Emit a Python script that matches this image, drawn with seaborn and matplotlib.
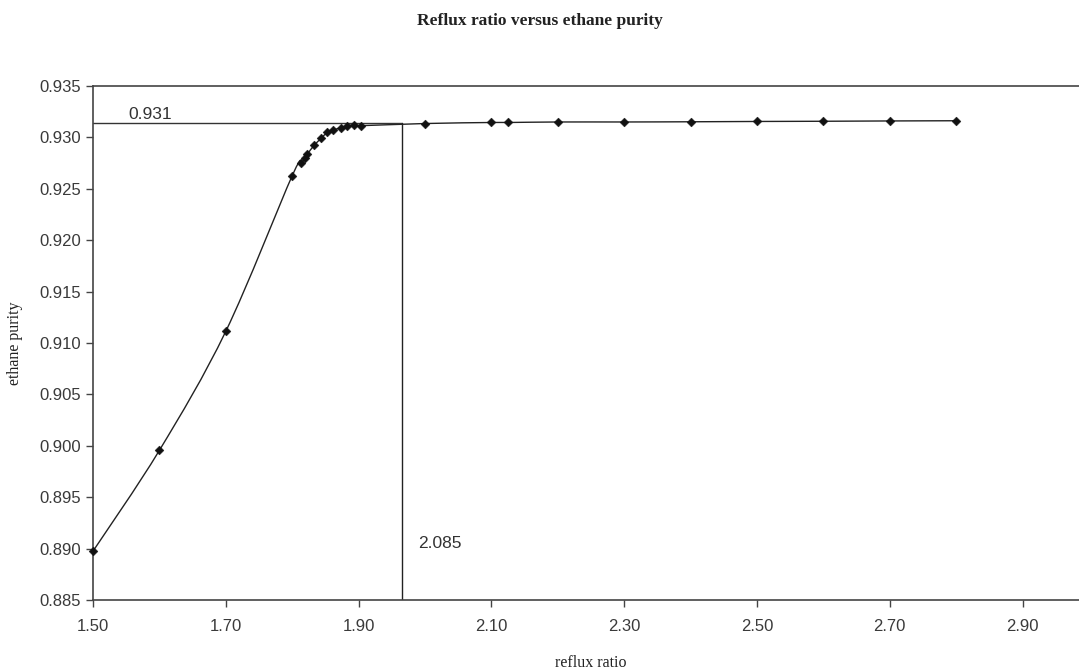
import numpy as np
import pandas as pd
import matplotlib
matplotlib.use('Agg')
import matplotlib.pyplot as plt
from matplotlib.path import Path
from matplotlib.patches import PathPatch
import seaborn as sns

# reflux ratio vs ethane purity
reflux = [1.50, 1.60, 1.70, 1.80, 1.814, 1.819, 1.823, 1.833, 1.8435, 1.853,
          1.862, 1.8735, 1.883, 1.8927, 1.903, 2.00, 2.10, 2.125, 2.20, 2.30,
          2.40, 2.50, 2.60, 2.70, 2.80]
purity = [0.88975, 0.89956, 0.91114, 0.92627, 0.92747, 0.9280, 0.92838, 0.92923,
          0.9299, 0.93049, 0.93072, 0.93094, 0.93110, 0.9312, 0.93114, 0.93135,
          0.93145, 0.93145, 0.9315, 0.9315, 0.93152, 0.93155, 0.93157, 0.9316,
          0.93162]

ref_x = 1.966      # where the vertical marker line sits
ref_y = 0.9314     # horizontal marker line
x_ticks = [1.50, 1.70, 1.90, 2.10, 2.30, 2.50, 2.70, 2.90]
y_ticks = [0.885, 0.890, 0.895, 0.900, 0.905, 0.910, 0.915, 0.920, 0.925, 0.930, 0.935]

df = pd.DataFrame({'reflux ratio': reflux, 'ethane purity': purity})

sns.set_style('white')
plt.rcParams['font.family'] = ['Liberation Sans', 'DejaVu Sans']

fig = plt.figure(figsize=(10.79, 6.72), dpi=100)
ax = fig.add_axes([93 / 1079, 1 - 600 / 672, (1089 - 93) / 1079, (600 - 86) / 672])

# smoothed line (excel-style bezier through the points)
pts = df[['reflux ratio', 'ethane purity']].to_numpy()
verts = [pts[0]]
codes = [Path.MOVETO]
n = len(pts)
for i in range(n - 1):
    p0 = pts[max(i - 1, 0)]
    p1 = pts[i]
    p2 = pts[i + 1]
    p3 = pts[min(i + 2, n - 1)]
    c1 = p1 + (p2 - p0) / 6.0
    c2 = p2 - (p3 - p1) / 6.0
    verts += [c1, c2, p2]
    codes += [Path.CURVE4] * 3
ax.add_patch(PathPatch(Path(verts, codes), facecolor='none', edgecolor='#222222', lw=1.0))

sns.scatterplot(data=df, x='reflux ratio', y='ethane purity', ax=ax, marker='D',
                s=20, color='#111111', edgecolor='#111111', clip_on=False, zorder=3)

# reference lines
ax.plot([1.50, ref_x], [ref_y, ref_y], color='#333333', lw=1.0)
ax.plot([ref_x, ref_x], [0.885, ref_y], color='#222222', lw=1.0)
ax.text(1.553, ref_y + 0.0001, '0.931', fontsize=12.5, color='#333333', va='bottom')
ax.text(1.99, 0.8905, '2.085', fontsize=12.5, color='#333333', va='center')

ax.set_xlim(1.50, 3.00)
ax.set_ylim(0.885, 0.935)
ax.set_xticks(x_ticks)
ax.set_yticks(y_ticks)
ax.set_xticklabels([f'{v:.2f}' for v in x_ticks])
ax.set_yticklabels([f'{v:.3f}' for v in y_ticks])
ax.tick_params(axis='both', direction='out', length=5, width=1, colors='#444444',
               labelsize=12, labelcolor='#3a3a3a')
ax.tick_params(axis='x', pad=9, bottom=True)
ax.tick_params(axis='y', left=True)
ax.yaxis.set_ticks_position('left')
ax.xaxis.set_ticks_position('bottom')

for side in ['left', 'top', 'bottom']:
    ax.spines[side].set_color('#444444')
    ax.spines[side].set_linewidth(1.2)
ax.spines['right'].set_visible(False)

ax.set_xlabel('reflux ratio', family='Liberation Serif', fontsize=11.5, color='#222222', labelpad=15)
ax.set_ylabel('ethane purity', family='Liberation Serif', fontsize=11.5, color='#222222', labelpad=12)

fig.text(0.5, 1 - 21 / 672, 'Reflux ratio versus ethane purity', ha='center', va='center',
         family='Liberation Serif', fontweight='bold', fontsize=12.5, color='#222222')

fig.savefig('out.png', dpi=100, facecolor='white')
